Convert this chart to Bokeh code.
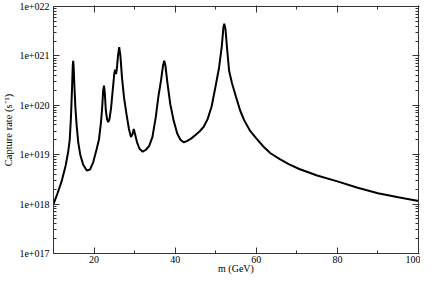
from bokeh.plotting import figure
from bokeh.models import LogAxis, LinearAxis, FixedTicker, CustomJSTickFormatter, ColumnDataSource
from bokeh.embed import file_html
from bokeh.resources import INLINE

mass = [10.0, 11.0, 12.0, 13.0, 13.6, 14.0, 14.3, 14.55, 14.75, 14.85, 14.95, 15.15, 15.4, 15.7,
        16.1, 16.6, 17.3, 18.2, 19.0, 19.8, 20.6, 21.2, 21.7, 22.0, 22.25, 22.45, 22.65, 22.9,
        23.2, 23.5, 23.8, 24.2, 24.6, 25.0, 25.2, 25.4, 25.6, 25.9, 26.2, 26.5, 26.9, 27.4,
        28.0, 28.6, 29.1, 29.5, 29.8, 30.1, 30.6, 31.2, 32.0, 32.8, 33.6, 34.4, 35.2, 35.9,
        36.5, 37.0, 37.3, 37.6, 38.1, 38.8, 39.6, 40.5, 41.3, 42.1, 43.0, 44.0, 45.0, 46.0,
        47.0, 48.0, 49.0, 50.0, 50.8, 51.5, 51.9, 52.1, 52.4, 52.8, 53.3, 54.0, 54.5, 55.0,
        56.0, 57.0, 58.5, 60.0, 61.8, 63.5, 65.8, 68.0, 70.6, 75.0, 80.0, 85.0, 90.0, 95.0, 100.0]
rate = [1.00e18, 1.66e18, 2.88e18, 6.03e18, 1.12e19, 2.00e19, 5.62e19, 2.00e20, 6.31e20, 7.94e20,
        6.31e20, 2.51e20, 8.91e19, 3.98e19, 1.78e19, 1.00e19, 6.31e18, 4.79e18, 5.01e18, 7.08e18,
        1.26e19, 2.00e19, 4.47e19, 8.91e19, 2.00e20, 2.51e20, 1.78e20, 7.94e19, 5.25e19, 4.57e19,
        5.25e19, 8.91e19, 2.00e20, 4.47e20, 5.25e20, 4.27e20, 5.25e20, 1.00e21, 1.51e21, 1.00e21,
        3.55e20, 1.41e20, 6.61e19, 3.31e19, 2.29e19, 2.63e19, 3.31e19, 2.63e19, 1.78e19, 1.32e19,
        1.15e19, 1.26e19, 1.51e19, 2.29e19, 5.62e19, 1.58e20, 3.16e20, 6.31e20, 7.94e20, 6.31e20,
        2.82e20, 1.05e20, 5.01e19, 2.69e19, 2.00e19, 1.78e19, 1.91e19, 2.14e19, 2.51e19, 2.95e19,
        3.63e19, 5.25e19, 9.55e19, 2.51e20, 5.62e20, 1.58e21, 3.80e21, 4.47e21, 3.55e21, 1.41e21,
        5.01e20, 2.82e20, 2.04e20, 1.48e20, 7.94e19, 5.01e19, 3.02e19, 2.14e19, 1.45e19, 1.07e19,
        8.13e18, 6.46e18, 5.13e18, 3.80e18, 2.88e18, 2.14e18, 1.66e18, 1.38e18, 1.15e18]

x_ticks = [20, 40, 60, 80, 100]
x_minor = [30, 50, 70, 90]
y_ticks = [1e17, 1e18, 1e19, 1e20, 1e21, 1e22]
y_minor = [k * t for t in y_ticks[:-1] for k in range(2, 10)]

FONT = "Liberation Serif"
FRAME = "#333333"

p = figure(width=420, height=276, x_range=(10, 100), y_range=(1e17, 1e22),
           y_axis_type="log", output_backend="svg", toolbar_location=None,
           min_border_left=0, min_border_right=2, min_border_top=6, min_border_bottom=0)
p.grid.visible = False
p.outline_line_color = FRAME
p.background_fill_color = "white"
p.border_fill_color = "white"

src = ColumnDataSource(dict(x=mass, y=rate))
p.line("x", "y", source=src, line_color="black", line_width=2)

fmt = CustomJSTickFormatter(code="return '1e+0' + Math.round(Math.log10(tick));")
blank = CustomJSTickFormatter(code="return '';")

def style(ax):
    ax.axis_line_color = FRAME
    ax.major_tick_line_color = FRAME
    ax.minor_tick_line_color = FRAME
    ax.major_tick_in = 6
    ax.major_tick_out = 0
    ax.minor_tick_in = 3
    ax.minor_tick_out = 0
    ax.major_label_text_font = FONT
    ax.major_label_text_font_size = "10px"
    ax.major_label_text_color = "black"
    ax.major_label_standoff = 3
    ax.axis_label_text_font = FONT
    ax.axis_label_text_font_size = "10px"
    ax.axis_label_text_font_style = "normal"
    ax.axis_label_text_color = "black"

xax = p.xaxis[0]
xax.ticker = FixedTicker(ticks=x_ticks, minor_ticks=x_minor)
xax.axis_label = "m (GeV)"
style(xax)
xax.major_label_standoff = 2
xax.axis_label_standoff = -3

yax = p.yaxis[0]
yax.ticker = FixedTicker(ticks=y_ticks, minor_ticks=y_minor)
yax.formatter = fmt
yax.axis_label = "Capture rate (s⁻¹)"
style(yax)
yax.axis_label_text_font_size = "10.5px"
yax.major_label_standoff = 4
yax.axis_label_standoff = 2

top = LinearAxis(ticker=FixedTicker(ticks=x_ticks, minor_ticks=x_minor), formatter=blank)
style(top)
top.major_tick_out = 1
top.major_label_standoff = 0
p.add_layout(top, "above")
right = LogAxis(ticker=FixedTicker(ticks=y_ticks, minor_ticks=y_minor), formatter=blank)
style(right)
right.major_tick_out = 1
right.major_label_standoff = 0
p.add_layout(right, "right")

open("out.html", "w").write(file_html(p, INLINE))
